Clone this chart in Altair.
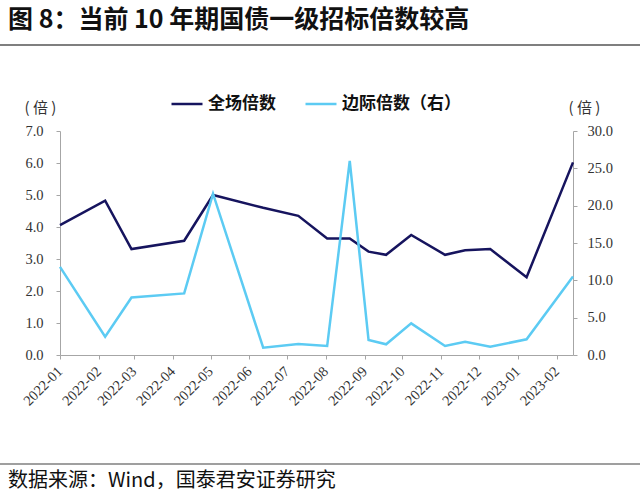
import altair as alt
import pandas as pd

# ---- data ----
dates = ["2022-01-01", "2022-02-06", "2022-02-27", "2022-04-10", "2022-05-03",
         "2022-06-12", "2022-07-10", "2022-08-02", "2022-08-20", "2022-09-04",
         "2022-09-18", "2022-10-08", "2022-11-04", "2022-11-20", "2022-12-10",
         "2023-01-08", "2023-02-14"]
total_ratio = [4.06, 4.82, 3.31, 3.57, 5.00, 4.60, 4.35, 3.64, 3.64, 3.23,
               3.13, 3.75, 3.13, 3.27, 3.31, 2.43, 6.02]
marginal_ratio = [11.8, 2.45, 7.7, 8.25, 21.6, 0.98, 1.47, 1.2, 26.0, 2.0,
                  1.43, 4.24, 1.2, 1.78, 1.1, 2.1, 10.5]
series_names = ["全场倍数", "边际倍数（右）"]
tick_months = ["2022-01-01", "2022-02-01", "2022-03-01", "2022-04-01", "2022-05-01",
               "2022-06-01", "2022-07-01", "2022-08-01", "2022-09-01", "2022-10-01",
               "2022-11-01", "2022-12-01", "2023-01-01", "2023-02-01"]
title_text = "图 8：当前 10 年期国债一级招标倍数较高"
source_text = "数据来源：Wind，国泰君安证券研究"
unit_text = "( 倍 )"

colors = ["#16145e", "#5ccbf3"]
CJK = "Noto Sans CJK SC"
NUM = "Liberation Serif"
AXIS_GRAY = "#a6a6a6"
LABEL_COLOR = "#333333"


def ms(s):
    return int(pd.Timestamp(s, tz="UTC").value // 10**6)


df_total = pd.DataFrame({"date": [ms(d) for d in dates], "value": total_ratio,
                         "series": series_names[0]})
df_marg = pd.DataFrame({"date": [ms(d) for d in dates], "value": marginal_ratio,
                        "series": series_names[1]})

x_enc = alt.X(
    "date:T",
    scale=alt.Scale(type="utc", domain=[ms(dates[0]), ms(dates[-1])]),
    axis=alt.Axis(
        title=None, values=[ms(t) for t in tick_months],
        labelExpr="utcFormat(datum.value, '%Y-%m')",
        labelAngle=315, labelAlign="right", labelBaseline="middle",
        labelFont=NUM, labelFontSize=14.5, labelColor=LABEL_COLOR, labelPadding=10,
        domainColor=AXIS_GRAY, tickColor=AXIS_GRAY, tickSize=4, grid=False,
        labelOverlap=False, labelBound=False, labelFlush=False,
    ),
)

color_enc = alt.Color(
    "series:N",
    scale=alt.Scale(domain=series_names, range=colors),
    sort=series_names,
    legend=alt.Legend(
        orient="none", legendX=110, legendY=-44, direction="horizontal", title=None,
        symbolType="stroke", symbolSize=961, symbolStrokeWidth=2.5,
        labelFont=CJK, labelFontSize=17, labelFontWeight="bold", labelColor="#111111",
        columnPadding=24, labelOffset=4,
    ),
)

left = alt.Chart(df_total).mark_line(strokeWidth=2.5).encode(
    x=x_enc,
    y=alt.Y("value:Q", scale=alt.Scale(domain=[0, 7], nice=False),
            axis=alt.Axis(title=unit_text, titleAngle=0, titleX=-20, titleY=-16,
                          titleAlign="center", titleFont=CJK, titleFontSize=15,
                          titleFontWeight="normal", titleColor=LABEL_COLOR,
                          values=[0, 1, 2, 3, 4, 5, 6, 7], format=".1f",
                          labelFont=NUM, labelFontSize=14.5, labelColor=LABEL_COLOR,
                          labelPadding=13, domainColor=AXIS_GRAY, tickColor=AXIS_GRAY,
                          tickSize=4, grid=False, orient="left")),
    color=color_enc,
)

right = alt.Chart(df_marg).mark_line(strokeWidth=2.5).encode(
    x=x_enc,
    y=alt.Y("value:Q", scale=alt.Scale(domain=[0, 30], nice=False),
            axis=alt.Axis(title=unit_text, titleAngle=0, titleX=11, titleY=-16,
                          titleAlign="center", titleFont=CJK, titleFontSize=15,
                          titleFontWeight="normal", titleColor=LABEL_COLOR,
                          values=[0, 5, 10, 15, 20, 25, 30], format=".1f",
                          labelFont=NUM, labelFontSize=14.5, labelColor=LABEL_COLOR,
                          labelPadding=10, domainColor=AXIS_GRAY, tickColor=AXIS_GRAY,
                          tickSize=4, grid=False, orient="right")),
    color=color_enc,
)

lines = alt.layer(left, right).resolve_scale(y="independent")

deco_df = pd.DataFrame({"title": [title_text], "source": [source_text]})
base = alt.Chart(deco_df)
title_mark = base.mark_text(font=CJK, fontSize=25, fontWeight="bold", align="left",
                            baseline="middle", color="#111111").encode(
    text="title:N", x=alt.value(-52), y=alt.value(-111))
source_mark = base.mark_text(font=CJK, fontSize=20, align="left", baseline="middle",
                             color="#111111").encode(
    text="source:N", x=alt.value(-52), y=alt.value(350))
top_rule = base.mark_rule(color="#7f7f7f", strokeWidth=2).encode(
    x=alt.value(-60), x2=alt.value(580), y=alt.value(-86))
bottom_rule = base.mark_rule(color="#7f7f7f", strokeWidth=1.5).encode(
    x=alt.value(-60), x2=alt.value(580), y=alt.value(333))

chart = alt.layer(lines, title_mark, source_mark, top_rule, bottom_rule).properties(
    width=513, height=224,
    padding={"left": 60, "top": 131, "right": 67, "bottom": 142},
    autosize=alt.AutoSizeParams(type="none"),
    background="white",
).configure_view(stroke=None)

chart.save("out.html", embed_options={"renderer": "svg", "actions": False})
